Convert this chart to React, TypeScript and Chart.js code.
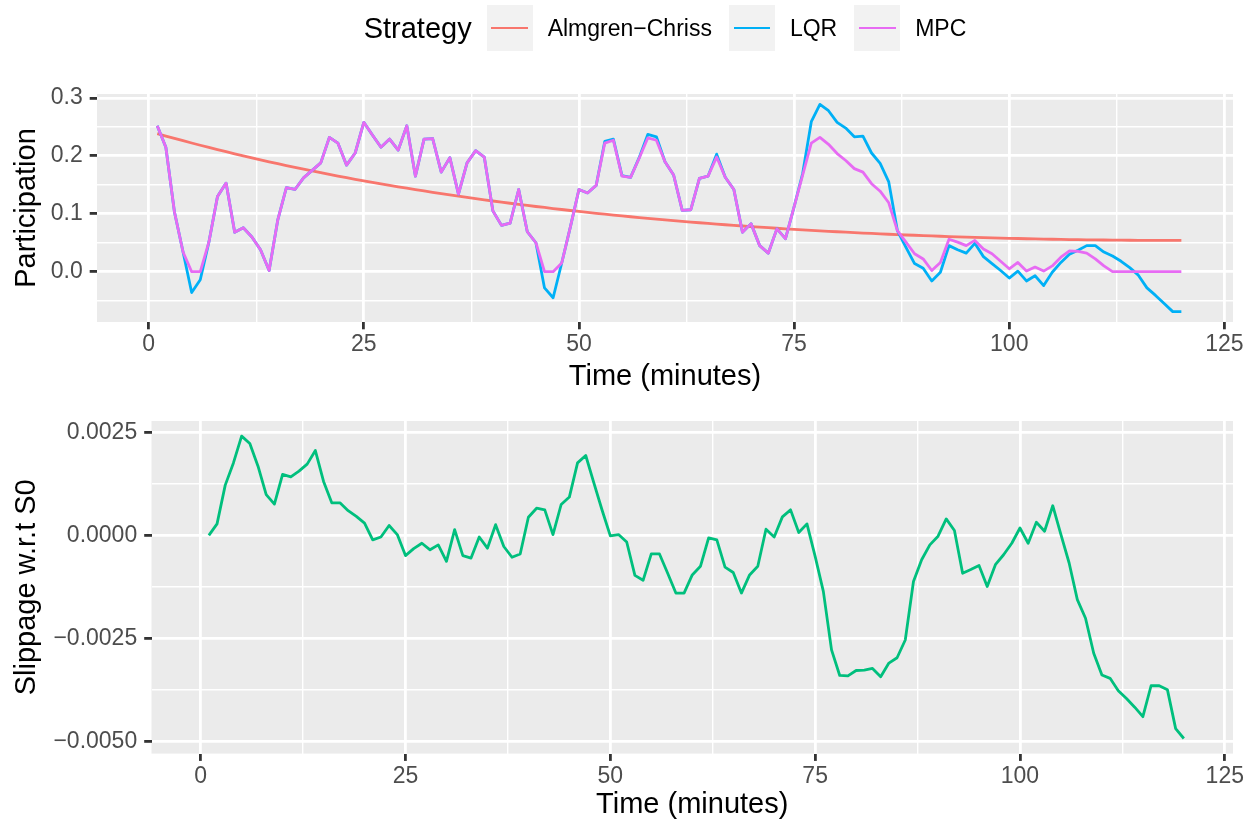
import React, { useEffect, useRef } from "react";
import { Chart, registerables } from "chart.js";

Chart.register(...registerables);

const FONT = '"Liberation Sans", Arial, Helvetica, sans-serif';

// ---- data ----
const minutes = [
  1, 2, 3, 4, 5, 6, 7, 8, 9, 10, 11, 12, 13, 14, 15, 16, 17, 18, 19, 20,
  21, 22, 23, 24, 25, 26, 27, 28, 29, 30, 31, 32, 33, 34, 35, 36, 37, 38, 39, 40,
  41, 42, 43, 44, 45, 46, 47, 48, 49, 50, 51, 52, 53, 54, 55, 56, 57, 58, 59, 60,
  61, 62, 63, 64, 65, 66, 67, 68, 69, 70, 71, 72, 73, 74, 75, 76, 77, 78, 79, 80,
  81, 82, 83, 84, 85, 86, 87, 88, 89, 90, 91, 92, 93, 94, 95, 96, 97, 98, 99, 100,
  101, 102, 103, 104, 105, 106, 107, 108, 109, 110, 111, 112, 113, 114, 115, 116, 117, 118, 119, 120,
];

const almgrenChriss = [
  0.2384, 0.2343, 0.2302, 0.2262, 0.2223, 0.2184, 0.2146, 0.2109, 0.2072, 0.2036,
  0.2, 0.1965, 0.1931, 0.1898, 0.1865, 0.1833, 0.1801, 0.177, 0.174, 0.171,
  0.168, 0.1652, 0.1623, 0.1596, 0.1569, 0.1543, 0.1517, 0.1492, 0.1466, 0.1442,
  0.1418, 0.1394, 0.1371, 0.1348, 0.1326, 0.1304, 0.1283, 0.1262, 0.1241, 0.1221,
  0.1202, 0.1182, 0.1163, 0.1145, 0.1126, 0.1109, 0.1091, 0.1074, 0.1057, 0.1041,
  0.1025, 0.1009, 0.0993, 0.0978, 0.0964, 0.0949, 0.0935, 0.0922, 0.0908, 0.0895,
  0.0882, 0.087, 0.0857, 0.0845, 0.0833, 0.0822, 0.0811, 0.08, 0.0789, 0.0779,
  0.0769, 0.076, 0.075, 0.0741, 0.0732, 0.0723, 0.0714, 0.0706, 0.0698, 0.069,
  0.0682, 0.0675, 0.0667, 0.066, 0.0654, 0.0647, 0.0641, 0.0634, 0.0629, 0.0623,
  0.0617, 0.0612, 0.0606, 0.0602, 0.0597, 0.0592, 0.0588, 0.0584, 0.058, 0.0576,
  0.0573, 0.0569, 0.0566, 0.0563, 0.056, 0.0558, 0.0555, 0.0553, 0.0551, 0.0549,
  0.0547, 0.0546, 0.0544, 0.0543, 0.0542, 0.0541, 0.0541, 0.054, 0.054, 0.054,
];

const lqr = [
  0.252, 0.215, 0.103, 0.034, -0.036, -0.014, 0.051, 0.13, 0.153, 0.068,
  0.076, 0.06, 0.038, 0.002, 0.089, 0.145, 0.142, 0.162, 0.175, 0.188,
  0.232, 0.222, 0.184, 0.205, 0.258, 0.236, 0.215, 0.229, 0.21, 0.252,
  0.165, 0.229, 0.23, 0.172, 0.197, 0.134, 0.188, 0.209, 0.198, 0.105,
  0.08, 0.084, 0.142, 0.069, 0.05, -0.028, -0.045, 0.015, 0.077, 0.142,
  0.136, 0.149, 0.225, 0.229, 0.166, 0.163, 0.197, 0.237, 0.233, 0.19,
  0.167, 0.106, 0.107, 0.161, 0.165, 0.203, 0.163, 0.142, 0.068, 0.083,
  0.045, 0.032, 0.074, 0.057, 0.112, 0.17, 0.259, 0.289, 0.278, 0.258,
  0.248, 0.233, 0.234, 0.205, 0.187, 0.155, 0.071, 0.042, 0.014, 0.006,
  -0.016, -0.001, 0.045, 0.038, 0.032, 0.049, 0.026, 0.014, 0.002, -0.011,
  0.001, -0.016, -0.007, -0.024, -0.001, 0.016, 0.03, 0.037, 0.045, 0.045,
  0.034, 0.027, 0.018, 0.007, -0.006, -0.028, -0.041, -0.055, -0.069, -0.069,
];

const mpc = [
  0.252, 0.215, 0.103, 0.034, 0.0, 0.0, 0.051, 0.13, 0.153, 0.068,
  0.076, 0.06, 0.038, 0.002, 0.089, 0.145, 0.142, 0.162, 0.175, 0.188,
  0.232, 0.222, 0.184, 0.205, 0.258, 0.236, 0.215, 0.229, 0.21, 0.252,
  0.165, 0.229, 0.23, 0.172, 0.197, 0.134, 0.188, 0.209, 0.198, 0.105,
  0.08, 0.084, 0.142, 0.069, 0.05, 0.0, 0.0, 0.015, 0.077, 0.142,
  0.136, 0.149, 0.222, 0.227, 0.165, 0.163, 0.196, 0.231, 0.227, 0.19,
  0.167, 0.106, 0.107, 0.161, 0.165, 0.198, 0.163, 0.142, 0.068, 0.083,
  0.045, 0.032, 0.074, 0.057, 0.112, 0.167, 0.222, 0.232, 0.22, 0.204,
  0.192, 0.178, 0.172, 0.152, 0.139, 0.119, 0.071, 0.051, 0.031, 0.022,
  0.002, 0.016, 0.056, 0.051, 0.045, 0.054, 0.039, 0.031, 0.018, 0.005,
  0.016, 0.001, 0.008, 0.001, 0.01, 0.025, 0.036, 0.035, 0.032, 0.022,
  0.01, 0.0, 0.0, 0.0, 0.0, 0.0, 0.0, 0.0, 0.0, 0.0,
];

const slippage = [
  0.0, 0.00028, 0.00122, 0.00176, 0.00241, 0.00223, 0.00168, 0.00099, 0.00076, 0.00148,
  0.00142, 0.00156, 0.00173, 0.00206, 0.00131, 0.00079, 0.00079, 0.0006, 0.00046, 0.0003,
  -0.00011, -0.00004, 0.00024, 0.00002, -0.00049, -0.00032, -0.00019, -0.00035, -0.00023, -0.00063,
  0.00014, -0.00049, -0.00055, -0.00004, -0.00031, 0.00026, -0.00027, -0.00053, -0.00045, 0.00044,
  0.00066, 0.00062, 0.00002, 0.00075, 0.00093, 0.00176, 0.00194, 0.00127, 0.00061, -0.00001,
  0.00002, -0.00016, -0.00097, -0.00109, -0.00045, -0.00045, -0.00092, -0.0014, -0.0014, -0.00096,
  -0.00075, -0.00006, -0.00011, -0.00077, -0.0009, -0.0014, -0.00096, -0.00075, 0.00015, -0.00004,
  0.00045, 0.00062, 0.00007, 0.00028, -0.00051, -0.00136, -0.00278, -0.0034, -0.00341, -0.00328,
  -0.00327, -0.00323, -0.00343, -0.0031, -0.00297, -0.00254, -0.00112, -0.00059, -0.00023, -0.00002,
  0.0004, 0.00012, -0.00092, -0.00083, -0.00073, -0.00124, -0.00071, -0.00047, -0.00019, 0.00018,
  -0.00019, 0.00032, 0.0001, 0.00072, 0.00002, -0.00067, -0.00156, -0.00201, -0.00286, -0.00339,
  -0.00347, -0.00377, -0.00396, -0.00417, -0.0044, -0.00365, -0.00365, -0.00375, -0.00469, -0.00493,
];

// ---- ticks / labels ----
const timeRange = [0, 120];
const timeMajorTicks = [0, 25, 50, 75, 100, 125];
const timeMajorLabels = ["0", "25", "50", "75", "100", "125"];
const timeMinorTicks = [12.5, 37.5, 62.5, 87.5, 112.5];

const partMajorTicks = [0, 0.1, 0.2, 0.3];
const partMajorLabels = ["0.0", "0.1", "0.2", "0.3"];
const partMinorTicks = [-0.05, 0.05, 0.15, 0.25];

const slipMajorTicks = [-0.005, -0.0025, 0, 0.0025];
const slipMajorLabels = ["\u22120.0050", "\u22120.0025", "0.0000", "0.0025"];
const slipMinorTicks = [-0.00375, -0.00125, 0.00125];

const strategyNames = ["Almgren\u2212Chriss", "LQR", "MPC"];
const strategyColors = ["#F8766D", "#00B0F6", "#E76BF3"];
const slippageColor = "#00BF7D";

const legendTitle = "Strategy";
const xTitle = "Time (minutes)";
const topYTitle = "Participation";
const bottomYTitle = "Slippage w.r.t S0";

// ---- helpers ----
function expandRange(values: number[]): [number, number] {
  const lo = Math.min(...values);
  const hi = Math.max(...values);
  const pad = (hi - lo) * 0.05;
  return [lo - pad, hi + pad];
}

const LINE_W = 2.8;
const MINOR_W = 1.4;
const TICK_LEN = 7.3;

function buildAxis(opts: {
  min: number;
  max: number;
  major: number[];
  labels: string[];
  minor: number[];
  title: string;
  horizontal: boolean;
  size: number;
}) {
  const { min, max, major, labels, minor, title, horizontal, size } = opts;
  return {
    type: "linear",
    position: horizontal ? "bottom" : "left",
    min,
    max,
    afterFit: (scale: any) => {
      if (horizontal) scale.height = size;
      else scale.width = size;
    },
    afterBuildTicks: (scale: any) => {
      const list = [
        ...major.map((v, i) => ({ value: v, major: true, lbl: labels[i] })),
        ...minor.map((v) => ({ value: v, major: false, lbl: "" })),
      ].filter((t) => t.value >= min && t.value <= max);
      list.sort((a, b) => a.value - b.value);
      scale.ticks = list;
    },
    ticks: {
      autoSkip: false,
      maxRotation: 0,
      minRotation: 0,
      padding: horizontal ? 2 : 7,
      color: "#4D4D4D",
      font: { family: FONT, size: 23 },
      callback: (_v: number, i: number, ticks: any[]) => (ticks[i] && ticks[i].lbl) || "",
    },
    grid: {
      color: "#FFFFFF",
      lineWidth: (ctx: any) => (ctx.tick && ctx.tick.major ? LINE_W : MINOR_W),
      drawTicks: true,
      tickLength: TICK_LEN,
      tickColor: (ctx: any) => (ctx.tick && ctx.tick.major ? "#333333" : "rgba(0,0,0,0)"),
      tickWidth: (ctx: any) => (ctx.tick && ctx.tick.major ? LINE_W : 0),
    },
    border: { display: false },
    title: {
      display: true,
      text: title,
      color: "#000000",
      font: { family: FONT, size: 29 },
      padding: horizontal ? { top: 0, bottom: 0 } : { top: 9.6, bottom: 0 },
    },
  };
}

const panelBackground = {
  id: "panelBackground",
  beforeDraw(chart: any) {
    const { ctx, chartArea: a } = chart;
    ctx.save();
    ctx.fillStyle = "#EBEBEB";
    ctx.fillRect(a.left, a.top, a.right - a.left, a.bottom - a.top);
    ctx.restore();
  },
};

function points(ys: number[]) {
  return ys.map((y, i) => ({ x: minutes[i], y }));
}

function lineDataset(label: string, ys: number[], color: string, order: number) {
  return {
    label,
    data: points(ys),
    borderColor: color,
    backgroundColor: color,
    borderWidth: LINE_W,
    borderJoinStyle: "round",
    borderCapStyle: "butt",
    pointRadius: 0,
    tension: 0,
    fill: false,
    order,
  };
}

function baseOptions(padding: any, scales: any) {
  return {
    animation: false,
    responsive: false,
    maintainAspectRatio: false,
    devicePixelRatio: 1,
    events: [],
    layout: { padding },
    plugins: { legend: { display: false }, tooltip: { enabled: false } },
    scales,
  };
}

function ChartCanvas({ top, height, makeConfig }: { top: number; height: number; makeConfig: () => any }) {
  const ref = useRef<HTMLCanvasElement | null>(null);
  useEffect(() => {
    if (!ref.current) return;
    const chart = new Chart(ref.current, makeConfig());
    return () => chart.destroy();
  }, []);
  return (
    <canvas
      ref={ref}
      width={1260}
      height={height}
      style={{ position: "absolute", left: 0, top, width: 1260, height, display: "block" }}
    />
  );
}

function participationConfig() {
  const [xMin, xMax] = expandRange(timeRange);
  const [yMin, yMax] = expandRange([...almgrenChriss, ...lqr, ...mpc]);
  return {
    type: "line",
    data: {
      datasets: [
        lineDataset(strategyNames[0], almgrenChriss, strategyColors[0], 3),
        lineDataset(strategyNames[1], lqr, strategyColors[1], 2),
        lineDataset(strategyNames[2], mpc, strategyColors[2], 1),
      ],
    },
    options: baseOptions(
      { top: 94, right: 27, bottom: 0, left: 0 },
      {
        x: buildAxis({ min: xMin, max: xMax, major: timeMajorTicks, labels: timeMajorLabels, minor: timeMinorTicks, title: xTitle, horizontal: true, size: 72 }),
        y: buildAxis({ min: yMin, max: yMax, major: partMajorTicks, labels: partMajorLabels, minor: partMinorTicks, title: topYTitle, horizontal: false, size: 97 }),
      }
    ),
    plugins: [panelBackground],
  };
}

function slippageConfig() {
  const [xMin, xMax] = expandRange(timeRange);
  const [yMin, yMax] = expandRange(slippage);
  return {
    type: "line",
    data: {
      datasets: [lineDataset("Slippage", slippage, slippageColor, 1)],
    },
    options: baseOptions(
      { top: 25, right: 27, bottom: 0, left: 0 },
      {
        x: buildAxis({ min: xMin, max: xMax, major: timeMajorTicks, labels: timeMajorLabels, minor: timeMinorTicks, title: xTitle, horizontal: true, size: 68.4 }),
        y: buildAxis({ min: yMin, max: yMax, major: slipMajorTicks, labels: slipMajorLabels, minor: slipMinorTicks, title: bottomYTitle, horizontal: false, size: 151.5 }),
      }
    ),
    plugins: [panelBackground],
  };
}

function Legend() {
  return (
    <div
      style={{
        position: "absolute",
        left: 97,
        width: 1136,
        top: 5,
        height: 46,
        display: "flex",
        justifyContent: "center",
        alignItems: "center",
        fontFamily: FONT,
        color: "#000",
        whiteSpace: "nowrap",
      }}
    >
      <span style={{ fontSize: 29, marginRight: 15 }}>{legendTitle}</span>
      {strategyNames.map((name, i) => (
        <React.Fragment key={name}>
          <div style={{ position: "relative", width: 46, height: 46, background: "#F2F2F2", marginRight: 15 }}>
            <div
              style={{
                position: "absolute",
                left: 4.6,
                right: 4.6,
                top: 23 - LINE_W / 2,
                height: LINE_W,
                background: strategyColors[i],
              }}
            />
          </div>
          <span style={{ fontSize: 23, marginRight: i < strategyNames.length - 1 ? 17 : 0 }}>{name}</span>
        </React.Fragment>
      ))}
    </div>
  );
}

export default function App() {
  return (
    <div style={{ position: "absolute", left: 0, top: 0, width: 1260, height: 829, background: "#FFFFFF", overflow: "hidden" }}>
      <ChartCanvas top={0} height={394} makeConfig={participationConfig} />
      <ChartCanvas top={396} height={426} makeConfig={slippageConfig} />
      <Legend />
    </div>
  );
}
